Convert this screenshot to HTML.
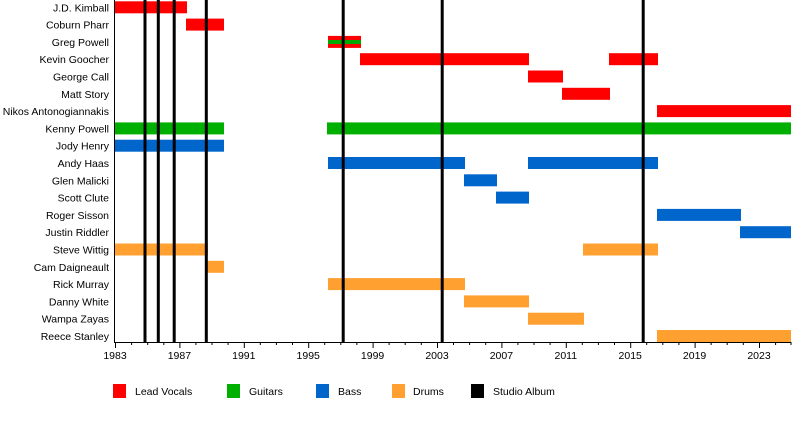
<!DOCTYPE html>
<html><head><meta charset="utf-8"><style>
html,body{margin:0;padding:0;background:#fff;}
svg{display:block;font-family:"Liberation Sans",sans-serif;}
</style></head><body>
<svg width="800" height="442" viewBox="0 0 800 442" xmlns="http://www.w3.org/2000/svg">
<g font-size="10.5" fill="#000" text-anchor="end">
<text x="109" y="11.3">J.D. Kimball</text>
<text x="109" y="28.6">Coburn Pharr</text>
<text x="109" y="45.9">Greg Powell</text>
<text x="109" y="63.2">Kevin Goocher</text>
<text x="109" y="80.5">George Call</text>
<text x="109" y="97.8">Matt Story</text>
<text x="109" y="115.1">Nikos Antonogiannakis</text>
<text x="109" y="132.4">Kenny Powell</text>
<text x="109" y="149.7">Jody Henry</text>
<text x="109" y="167">Andy Haas</text>
<text x="109" y="184.3">Glen Malicki</text>
<text x="109" y="201.6">Scott Clute</text>
<text x="109" y="218.9">Roger Sisson</text>
<text x="109" y="236.2">Justin Riddler</text>
<text x="109" y="253.5">Steve Wittig</text>
<text x="109" y="270.8">Cam Daigneault</text>
<text x="109" y="288.1">Rick Murray</text>
<text x="109" y="305.4">Danny White</text>
<text x="109" y="322.7">Wampa Zayas</text>
<text x="109" y="340">Reece Stanley</text>
</g>
<g>
<g fill="#ff0000">
<rect x="115" y="1.3" width="72" height="12"/>
<rect x="186" y="18.6" width="38" height="12"/>
<rect x="328" y="35.9" width="33" height="12"/>
<rect x="360" y="53.2" width="169" height="12"/>
<rect x="609" y="53.2" width="49" height="12"/>
<rect x="528" y="70.5" width="35" height="12"/>
<rect x="562" y="87.8" width="48" height="12"/>
<rect x="657" y="105.1" width="134" height="12"/>
</g>
<rect x="328" y="40" width="33" height="4" fill="#00aa00"/>
<g fill="#00b000">
<rect x="115" y="122.4" width="109" height="12"/>
<rect x="327" y="122.4" width="464" height="12"/>
</g>
<g fill="#0066cc">
<rect x="115" y="139.7" width="109" height="12"/>
<rect x="328" y="157" width="137" height="12"/>
<rect x="528" y="157" width="130" height="12"/>
<rect x="464" y="174.3" width="33" height="12"/>
<rect x="496" y="191.6" width="33" height="12"/>
<rect x="657" y="208.9" width="84" height="12"/>
<rect x="740" y="226.2" width="51" height="12"/>
</g>
<g fill="#ffa030">
<rect x="115" y="243.5" width="93" height="12"/>
<rect x="583" y="243.5" width="75" height="12"/>
<rect x="207" y="260.8" width="17" height="12"/>
<rect x="328" y="278.1" width="137" height="12"/>
<rect x="464" y="295.4" width="65" height="12"/>
<rect x="528" y="312.7" width="56" height="12"/>
<rect x="657" y="330" width="134" height="12"/>
</g>
</g>
<g fill="#000">
<rect x="143.5" y="0" width="3" height="342"/>
<rect x="156.8" y="0" width="3" height="342"/>
<rect x="172.7" y="0" width="3" height="342"/>
<rect x="204.8" y="0" width="3" height="342"/>
<rect x="341.7" y="0" width="3" height="342"/>
<rect x="440.7" y="0" width="3" height="342"/>
<rect x="641.7" y="0" width="3" height="342"/>
</g>
<line x1="114.5" y1="0" x2="114.5" y2="343" stroke="#000" stroke-width="1"/>
<line x1="114.5" y1="342.5" x2="791" y2="342.5" stroke="#000" stroke-width="1"/>
<g font-size="10.5" text-anchor="middle" fill="#000">
<text x="115" y="359">1983</text>
<text x="179.4" y="359">1987</text>
<text x="243.8" y="359">1991</text>
<text x="308.2" y="359">1995</text>
<text x="372.6" y="359">1999</text>
<text x="437" y="359">2003</text>
<text x="501.4" y="359">2007</text>
<text x="565.8" y="359">2011</text>
<text x="630.2" y="359">2015</text>
<text x="694.6" y="359">2019</text>
<text x="759" y="359">2023</text>
</g>
<g stroke="#000" stroke-width="1">
<path d="M115.5 342v6M179.9 342v6M244.3 342v6M308.7 342v6M373.1 342v6M437.5 342v6M501.9 342v6M566.3 342v6M630.7 342v6M695.1 342v6M759.5 342v6
M131.6 342v3M147.7 342v3M163.8 342v3M195.9 342v3M212 342v3M228.1 342v3M260.3 342v3M276.4 342v3M292.5 342v3M324.7 342v3M340.8 342v3M356.9 342v3M389.1 342v3M405.2 342v3M421.3 342v3M453.5 342v3M469.6 342v3M485.7 342v3M517.9 342v3M534 342v3M550.1 342v3M582.3 342v3M598.4 342v3M614.5 342v3M646.7 342v3M662.8 342v3M678.9 342v3M711.1 342v3M727.2 342v3M743.3 342v3M775.6 342v3M791 342v3"/>
</g>
<g font-size="10.5" fill="#000">
<rect x="113" y="384" width="13" height="14" fill="#ff0000"/>
<text x="135" y="395">Lead Vocals</text>
<rect x="227" y="384" width="13" height="14" fill="#00b000"/>
<text x="249" y="395">Guitars</text>
<rect x="316" y="384" width="13" height="14" fill="#0066cc"/>
<text x="338" y="395">Bass</text>
<rect x="392" y="384" width="13" height="14" fill="#ffa030"/>
<text x="413" y="395">Drums</text>
<rect x="471" y="384" width="13" height="14" fill="#000"/>
<text x="493" y="395">Studio Album</text>
</g>
</svg>
</body></html>
